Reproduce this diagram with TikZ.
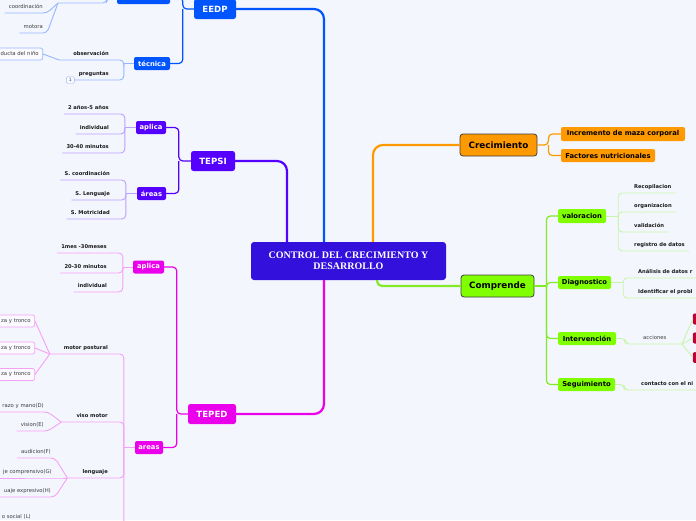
\documentclass[tikz,border=0pt]{standalone}
\usepackage{fontspec}
\setmainfont{DejaVu Sans}
\newfontfamily\ctrfont{Liberation Serif}
\usetikzlibrary{calc,positioning}
\definecolor{BgLav}{RGB}{244,246,254}
\definecolor{CentralInk}{RGB}{52,16,220}
\definecolor{EedpBlue}{RGB}{0,85,255}
\definecolor{EedpLight}{RGB}{150,182,255}
\definecolor{TepsiViolet}{RGB}{85,0,255}
\definecolor{TepsiLight}{RGB}{186,160,255}
\definecolor{TepedPink}{RGB}{235,0,235}
\definecolor{TepedLight}{RGB}{245,160,245}
\definecolor{CrecOrange}{RGB}{255,153,0}
\definecolor{CompLime}{RGB}{128,255,0}
\definecolor{CompLine}{RGB}{130,235,40}
\definecolor{CompLight}{RGB}{200,245,170}
\definecolor{ActRed}{RGB}{195,0,55}
\definecolor{InkGray}{RGB}{60,60,60}

\begin{document}
\begin{tikzpicture}[x=1pt,y=-1pt,
    topic/.style={rounded corners=2.5pt,text=white,inner sep=0pt,minimum height=20,
      font=\bfseries\fontsize{8.6}{10}\selectfont},
    topicdark/.style={rounded corners=3pt,text=black,draw=black!75,line width=0.8pt,
      inner sep=0pt,minimum height=22,font=\bfseries\fontsize{8.8}{10}\selectfont},
    sub/.style={rounded corners=2pt,text=white,inner sep=0pt,minimum height=13,
      font=\bfseries\fontsize{6.8}{8}\selectfont},
    leafb/.style={font=\bfseries\fontsize{5.2}{6}\selectfont,text=black!90,
      inner xsep=4pt,inner ysep=2.8pt,text height=4pt,text depth=1.2pt},
    leafr/.style={leafb,font=\fontsize{5.3}{6}\selectfont,text=InkGray},
    edgeleft/.style={text width=#1,align=right},
    edgeright/.style={text width=#1,align=left},
    boxleaf/.style={leafr,rounded corners=2pt,inner ysep=2pt,minimum height=12,
      fill=white!50!BgLav,line width=0.7pt},
    badge/.style={draw=EedpLight,rounded corners=1.5pt,text=InkGray,inner sep=0pt,
      minimum width=8,minimum height=7,font=\fontsize{4.5}{5}\selectfont,fill=white!50!BgLav},
    mainedge/.style={line width=2.2pt,rounded corners=10pt},
    subedge/.style={line width=1.2pt,rounded corners=4pt},
    leafedge/.style={line width=0.9pt,rounded corners=4pt}]
  \useasboundingbox (0,0) rectangle (696,520);
  \fill[BgLav] (0,0) rectangle (696,520);
  \clip (0,0) rectangle (696,520);

  % centro y ramas principales
  \node[fill=CentralInk,rounded corners=3pt,text=white,align=center,inner sep=0pt,
    minimum width=195,minimum height=38,
    font=\ctrfont\bfseries\fontsize{10}{11}\selectfont] (central) at (348.5,261)
    {CONTROL DEL CRECIMIENTO Y\\DESARROLLO};
  \node[topic,fill=EedpBlue,minimum width=42] (eedp) at (215,9) {EEDP};
  \node[topic,fill=TepsiViolet,minimum width=44] (tepsi) at (213,161) {TEPSI};
  \node[topic,fill=TepedPink,minimum width=48] (teped) at (212,414) {TEPED};
  \node[topicdark,fill=CrecOrange,minimum width=77] (crec) at (498.5,145) {Crecimiento};
  \node[topicdark,fill=CompLime,minimum width=73] (compr) at (497.5,286) {Comprende};

  \draw[mainedge,EedpBlue] (eedp.east) -| ($(central.north)+(-24.5,0)$);
  \draw[mainedge,TepsiViolet] (tepsi.east) -| ($(central.north)+(-61.5,0)$);
  \draw[mainedge,TepedPink] ($(central.south)+(-24.5,0)$) |- (teped.east);
  \draw[mainedge,CrecOrange] ($(central.north)+(24.5,0)$) |- (crec.west);
  \draw[mainedge,CompLine,rounded corners=5pt] ($(central.south)+(28.5,0)$) |- (compr.west);

  % subtemas
  \node[sub,fill=EedpBlue,minimum width=53] (eArea) at (143.5,-2.5) {};
  \node[sub,fill=EedpBlue,minimum width=36] (tecnica) at (152,63.5) {técnica};
  \node[sub,fill=TepsiViolet,minimum width=30] (tsAplica) at (151,127.5) {aplica};
  \node[sub,fill=TepsiViolet,minimum width=29] (tsAreas) at (151.5,193.5) {áreas};
  \node[sub,fill=TepedPink,minimum width=31] (tdAplica) at (148.5,267) {aplica};
  \node[sub,fill=TepedPink,minimum width=28] (tdAreas) at (149,447.5) {areas};
  \node[sub,fill=CrecOrange,text=black,minimum width=124,minimum height=14] (incr) at (623,134) {Incremento de maza corporal};
  \node[sub,fill=CrecOrange,text=black,minimum width=94] (fact) at (608,155.5) {Factores nutricionales};
  \node[sub,fill=CompLime,text=black,minimum width=48,minimum height=14] (valor) at (582,216) {valoracion};
  \node[sub,fill=CompLime,text=black,minimum width=53] (diag) at (584.5,282.5) {Diagnostico};
  \node[sub,fill=CompLime,text=black,minimum width=58] (interv) at (587,338.5) {Intervención};
  \node[sub,fill=CompLime,text=black,minimum width=57] (segui) at (586.5,384.5) {Seguimiento};
  \foreach \k/\y in {1/319,2/338,3/357.5}
    \node[fill=ActRed,draw=ActRed!70!black,rounded corners=1.5pt,inner sep=0pt,
      minimum width=16,minimum height=10.5] (act\k) at (701,\y) {};

  \coordinate (jE) at ($(eedp.west)+(-11,0)$);
  \draw[subedge,EedpBlue] (eArea.east) -| (jE) -- (eedp.west);
  \draw[subedge,EedpBlue] (tecnica.east) -| (jE);
  \coordinate (jTs) at ($(tepsi.west)+(-12,0)$);
  \draw[subedge,TepsiViolet] (tsAplica.east) -| (jTs) -- (tepsi.west);
  \draw[subedge,TepsiViolet] (tsAreas.east) -| (jTs);
  \coordinate (jTd) at ($(teped.west)+(-11,0)$);
  \draw[subedge,TepedPink] (tdAplica.east) -| (jTd) -- (teped.west);
  \draw[subedge,TepedPink] (tdAreas.east) -| (jTd);
  \coordinate (jCr) at ($(crec.east)+(11,0)$);
  \draw[subedge,CrecOrange] (incr.west) -| (jCr) -- (crec.east);
  \draw[subedge,CrecOrange] (fact.west) -| (jCr);
  \coordinate (jCo) at ($(compr.east)+(12,0)$);
  \draw[subedge,CompLine] (jCo) -- (compr.east);
  \foreach \n in {valor,diag,interv,segui}
    \draw[subedge,CompLine] (\n.west) -| (jCo);

  % EEDP: hojas
  \coordinate (eFan) at (58,3);
  \coordinate (jEa) at ($(eArea.west)+(-10,0)$);
  \draw[leafedge,EedpLight] (eFan) -| (jEa) -- (eArea.west);
  \node[leafr,anchor=south east] (eCoord) at (47,13) {coordinación};
  \node[leafr,anchor=south east] (eMot) at (47,33) {motora};
  \draw[leafedge,EedpLight] (eFan) -- (eCoord.south east) -- (eCoord.south west);
  \draw[leafedge,EedpLight] (eFan) -- (eMot.south east) -- (eMot.south west);
  \coordinate (jTec) at ($(tecnica.west)+(-10,0)$);
  \draw[leafedge,EedpLight] (jTec) -- (tecnica.west);
  \node[leafb,anchor=south east] (obs) at (113,60) {observación};
  \node[leafb,anchor=south east] (preg) at (113,80) {preguntas};
  \coordinate (obsFan) at ($(obs.south west)+(-10,0)$);
  \draw[leafedge,EedpLight] (obsFan) -| (jTec);
  \draw[leafedge,EedpLight] (preg.south west) -| (jTec);
  \node[boxleaf,edgeleft=42,draw=EedpLight,anchor=east] (conducta) at (43,54) {ducta del niño};
  \draw[leafedge,EedpLight] (conducta.east) -- (obsFan);
  \node[badge,anchor=east] (pregN) at (preg.south west) {1};

  % TEPSI: hojas
  \coordinate (jTsA) at ($(tsAplica.west)+(-11,0)$);
  \draw[leafedge,TepsiLight] (jTsA) -- (tsAplica.west);
  \foreach \y/\t in {114/2 años-5 años,134/individual,153/30-40 minutos}{
    \node[leafb,anchor=south east] (tsA\y) at (113,\y) {\t};
    \draw[leafedge,TepsiLight] (tsA\y.south west) -| (jTsA);}
  \coordinate (jTsR) at ($(tsAreas.west)+(-11,0)$);
  \draw[leafedge,TepsiLight] (jTsR) -- (tsAreas.west);
  \foreach \y/\t in {180/S. coordinación,200/S. Lenguaje,219/S. Motricidad}{
    \node[leafb,anchor=south east] (tsR\y) at (114,\y) {\t};
    \draw[leafedge,TepsiLight] (tsR\y.south west) -| (jTsR);}

  % TEPED: hojas
  \coordinate (jTdA) at ($(tdAplica.west)+(-10,0)$);
  \draw[leafedge,TepedLight] (jTdA) -- (tdAplica.west);
  \foreach \y/\t in {253/1mes -30meses,273/20-30 minutos,292/individual}{
    \node[leafb,anchor=south east] (tdA\y) at (111,\y) {\t};
    \draw[leafedge,TepedLight] (tdA\y.south west) -| (jTdA);}
  \coordinate (jTdR) at ($(tdAreas.west)+(-11,0)$);
  \draw[leafedge,TepedLight] (jTdR) -- (tdAreas.west);
  \node[leafb,anchor=south east] (mPost) at (112,354) {motor postural};
  \node[leafb,anchor=south east] (vMot) at (112,422) {viso motor};
  \node[leafb,anchor=south east] (leng) at (112,478) {lenguaje};
  \coordinate (mpFan) at ($(mPost.south west)+(-10,0)$);
  \coordinate (vmFan) at ($(vMot.south west)+(-11,0)$);
  \coordinate (lgFan) at ($(leng.south west)+(-11,0)$);
  \coordinate (socFan) at (66,540);
  \foreach \c in {mpFan,vmFan,lgFan,socFan}
    \draw[leafedge,TepedLight] (\c) -| (jTdR);
  \foreach \k/\y in {1/321,2/348,3/374.5}{
    \node[boxleaf,edgeleft=36,draw=TepedLight,anchor=east] (mp\k) at (35,\y) {za y tronco};
    \draw[leafedge,TepedLight] (mpFan) -- (mp\k.east);}
  \node[leafr,edgeleft=44,anchor=south east] (vm1) at (48,412) {razo y mano(D)};
  \node[leafr,anchor=south east] (vm2) at (48,431) {vision(E)};
  \foreach \k in {1,2}
    \draw[leafedge,TepedLight] (vmFan) -- (vm\k.south east) -- (vm\k.south west);
  \node[leafr,anchor=south east] (lg1) at (55,458) {audicion(F)};
  \node[leafr,edgeleft=52,anchor=south east] (lg2) at (56,478) {je comprensivo(G)};
  \node[leafr,edgeleft=50,anchor=south east] (lg3) at (55,497) {uaje expresivo(H)};
  \foreach \k in {1,2,3}
    \draw[leafedge,TepedLight] (lgFan) -- (lg\k.south east) -- (lg\k.south west);
  \node[leafr,edgeleft=32,anchor=south east] (soc1) at (35,523) {o social (L)};
  \draw[leafedge,TepedLight] (socFan) -- (soc1.south east) -- (soc1.south west);

  % Comprende: hojas
  \coordinate (jVa) at ($(valor.east)+(12,0)$);
  \draw[leafedge,CompLight] (jVa) -- (valor.east);
  \foreach \y/\t in {193/Recopilacion,212/organizacion,232/validación,251/registro de datos}{
    \node[leafb,anchor=south west] (va\y) at (630,\y) {\t};
    \draw[leafedge,CompLight] (va\y.south east) -| (jVa);}
  \coordinate (jDg) at ($(diag.east)+(12,0)$);
  \draw[leafedge,CompLight] (jDg) -- (diag.east);
  \foreach \y/\t in {278/Análisis de datos r,298/Identificar el probl}{
    \node[leafb,edgeright=58,anchor=south west] (dg\y) at (634,\y) {\t};
    \draw[leafedge,CompLight] (dg\y.south east) -| (jDg);}
  \node[leafr,anchor=south west] (acc) at (639,344) {acciones};
  \coordinate (accFan) at (682,344);
  \coordinate (jIv) at ($(interv.east)+(9,0)$);
  \draw[leafedge,CompLight] (interv.east) -- (jIv) |- (accFan);
  \foreach \k in {1,2,3}
    \draw[leafedge,CompLight] (accFan) -- (act\k.west);
  \node[leafb,edgeright=55,anchor=south west] (cont) at (637,390) {contacto con el ni};
  \coordinate (jSg) at ($(segui.east)+(9,0)$);
  \draw[leafedge,CompLight] (segui.east) -- (jSg) |- (cont.south east);
\end{tikzpicture}
\end{document}
